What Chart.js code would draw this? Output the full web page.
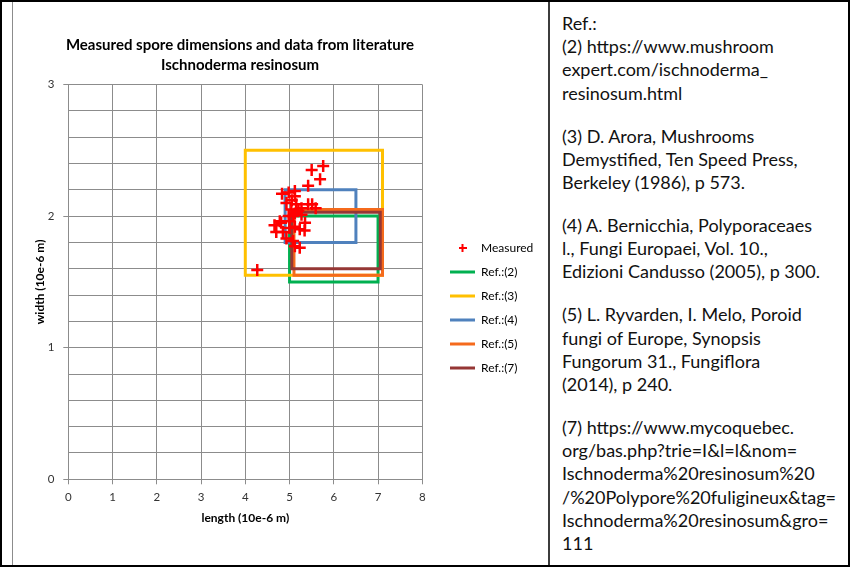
<!DOCTYPE html>
<html>
<head>
<meta charset="utf-8">
<title>Ischnoderma resinosum spores</title>
<script src="https://cdn.jsdelivr.net/npm/chart.js@4.4.1/dist/chart.umd.min.js"></script>
<style>
  html, body { margin: 0; padding: 0; background: #fff; }
  #frame { position: relative; width: 850px; height: 567px; box-sizing: border-box; border: 2px solid #000; overflow: hidden; }
  #leftRule { position: absolute; left: 10px; top: 0; width: 1px; height: 563px; background: #8c8c8c; }
  #midRule { position: absolute; left: 546px; top: 0; width: 2px; height: 563px; background: #3c3c3c; }
  #chart { position: absolute; left: 10px; top: 0; }
  #title { position: absolute; left: 0; top: 33px; width: 476px; text-align: center;
           font: bold 15px Lato, sans-serif; line-height: 19.5px; color: #000; }
  #refs { position: absolute; left: 560px; top: 10px; font-family: Lato, sans-serif; font-size: 18px;
          line-height: 23.2px; color: #111; white-space: nowrap; }
  #refs p { margin: 0 0 19.8px 0; }
</style>
</head>
<body>
<div id="frame">
  <div id="leftRule"></div>
  <canvas id="chart" width="536" height="563"></canvas>
  <div id="midRule"></div>
  <div id="title">Measured spore dimensions and data from literature<br>Ischnoderma resinosum</div>
  <div id="refs">
    <p>Ref.:<br>(2) https://www.mushroom<br>expert.com/ischnoderma_<br>resinosum.html</p>
    <p>(3) D. Arora, Mushrooms<br>Demystified, Ten Speed Press,<br>Berkeley (1986), p 573.</p>
    <p>(4) A. Bernicchia, Polyporaceaes<br>l., Fungi Europaei, Vol. 10.,<br>Edizioni Candusso (2005), p 300.</p>
    <p>(5) L. Ryvarden, I. Melo, Poroid<br>fungi of Europe, Synopsis<br>Fungorum 31., Fungiflora<br>(2014), p 240.</p>
    <p>(7) https://www.mycoquebec.<br>org/bas.php?trie=I&amp;l=l&amp;nom=<br>Ischnoderma%20resinosum%20<br>/%20Polypore%20fuligineux&amp;tag=<br>Ischnoderma%20resinosum&amp;gro=<br>111</p>
  </div>
</div>
<script>
// measured spores, length / width in 10e-6 m
const measuredLength = [5.76, 5.50, 5.69, 5.42, 4.83, 4.98, 5.12, 5.12, 4.93, 5.15, 5.42, 5.51, 5.59,
                        5.27, 5.04, 5.12, 4.98, 5.27, 5.08, 4.78, 4.66, 5.00, 4.70, 4.85, 5.00, 5.12,
                        5.23, 5.34, 4.93, 5.08, 5.12, 5.23, 4.27, 5.05, 5.20, 5.35, 4.81];
const measuredWidth  = [2.38, 2.35, 2.28, 2.23, 2.17, 2.18, 2.19, 2.15, 2.10, 2.09, 2.09, 2.09, 2.06,
                        2.06, 2.05, 2.02, 2.00, 2.01, 2.00, 1.96, 1.93, 1.96, 1.88, 1.88, 1.91, 1.92,
                        1.90, 1.89, 1.83, 1.81, 1.77, 1.76, 1.59, 2.12, 2.04, 1.95, 1.95];

// literature ranges (boxes)
const refNames     = ['Ref.:(2)', 'Ref.:(3)', 'Ref.:(4)', 'Ref.:(5)', 'Ref.:(7)'];
const refLengthMin = [5.0, 4.0, 4.9, 5.1, 5.05];
const refLengthMax = [7.0, 7.1, 6.5, 7.1, 7.05];
const refWidthMin  = [1.5, 1.55, 1.8, 1.55, 1.6];
const refWidthMax  = [2.0, 2.5, 2.2, 2.05, 2.03];
const refColors    = ['#00b050', '#ffc000', '#4f81bd', '#f56a1c', '#953735'];

// axis ticks
const xTickLabels = [0, 1, 2, 3, 4, 5, 6, 7, 8];
const yTickLabels = [0, 1, 2, 3];

const gridGrey = '#8c8c8c';
const plotRight = 410.3;

const isLabelled = (list, v) => list.some(t => Math.abs(t - v) < 1e-6);

function boxPoints(i) {
  const x0 = refLengthMin[i], x1 = refLengthMax[i];
  const y0 = refWidthMin[i], y1 = refWidthMax[i];
  return [{x: x0, y: y0}, {x: x1, y: y0}, {x: x1, y: y1}, {x: x0, y: y1}, {x: x0, y: y0}];
}

// small "+" for the legend entry of the measured points
const crossIcon = document.createElement('canvas');
crossIcon.width = 8;
crossIcon.height = 8;
const ic = crossIcon.getContext('2d');
ic.fillStyle = '#ff0000';
ic.fillRect(0, 3, 8, 2);
ic.fillRect(3, 0, 2, 8);

const datasets = [{
  label: 'Measured',
  data: measuredLength.map((x, i) => ({x: x, y: measuredWidth[i]})),
  pointStyle: 'cross',
  pointRadius: 6,
  pointHoverRadius: 6,
  borderColor: '#ff0000',
  pointBorderColor: '#ff0000',
  pointBorderWidth: 2.5,
  backgroundColor: '#ff0000',
  showLine: false,
  order: 0
}];
refNames.forEach((name, i) => {
  datasets.push({
    label: name,
    data: boxPoints(i),
    showLine: true,
    borderColor: refColors[i],
    backgroundColor: refColors[i],
    borderWidth: 3,
    borderCapStyle: 'square',
    borderJoinStyle: 'miter',
    pointRadius: 0,
    pointHoverRadius: 0,
    pointStyle: 'line',
    tension: 0,
    order: refNames.length - i
  });
});

// put the legend where Excel had it
const legendSpot = {
  id: 'legendSpot',
  afterLayout(chart) {
    const lg = chart.legend;
    const w = lg.width, h = lg.height;
    lg.left = 426; lg.right = lg.left + w;
    lg.top = 228; lg.bottom = lg.top + h;
  }
};

const layoutPad = {top: 82.5, left: 0, right: 20, bottom: 35.7};

const chart = new Chart(document.getElementById('chart'), {
  type: 'scatter',
  data: {datasets: datasets},
  plugins: [legendSpot],
  options: {
    responsive: false,
    animation: false,
    layout: {padding: layoutPad},
    plugins: {
      title: {display: false},
      tooltip: {enabled: false},
      legend: {
        position: 'right',
        align: 'start',
        labels: {
          usePointStyle: true,
          pointStyleWidth: 25,
          padding: 12,
          color: '#000',
          font: {family: 'Lato', size: 12},
          sort: (a, b) => a.datasetIndex - b.datasetIndex,
          generateLabels(c) {
            const items = Chart.defaults.plugins.legend.labels.generateLabels(c);
            items.forEach(it => { if (it.datasetIndex === 0) it.pointStyle = crossIcon; });
            return items;
          }
        }
      }
    },
    scales: {
      x: {
        type: 'linear',
        min: 0,
        max: 8,
        afterFit(s) { s.height = 50; },
        ticks: {
          stepSize: 1,
          padding: 6,
          color: '#333',
          font: {family: 'Lato', size: 11.5},
          callback: v => isLabelled(xTickLabels, v) ? v : ''
        },
        grid: {color: gridGrey, tickColor: gridGrey, tickLength: 5},
        border: {color: gridGrey},
        title: {
          display: true,
          text: 'length (10e-6 m)',
          color: '#000',
          font: {family: 'Lato', size: 12, weight: 'bold'},
          padding: {top: 0, bottom: 4}
        }
      },
      y: {
        type: 'linear',
        min: 0,
        max: 3,
        afterFit(s) { s.width = 56.3; },
        ticks: {
          stepSize: 0.2,
          padding: 8.8,
          color: '#333',
          font: {family: 'Lato', size: 11.5},
          callback: v => isLabelled(yTickLabels, v) ? Math.round(v) : ''
        },
        grid: {
          color: gridGrey,
          tickLength: 5,
          tickColor: ctx => (ctx.tick && isLabelled(yTickLabels, ctx.tick.value)) ? gridGrey : 'rgba(0,0,0,0)'
        },
        border: {color: gridGrey},
        title: {
          display: true,
          text: 'width (10e-6 m)',
          color: '#000',
          font: {family: 'Lato', size: 12, weight: 'bold'},
          padding: {top: 20.8, bottom: 0}
        }
      }
    }
  }
});

// keep the plot's right edge where the reference has it
const extra = chart.chartArea.right - plotRight;
if (Math.abs(extra) > 0.3) {
  layoutPad.right += extra;
  chart.update();
}
</script>
</body>
</html>
